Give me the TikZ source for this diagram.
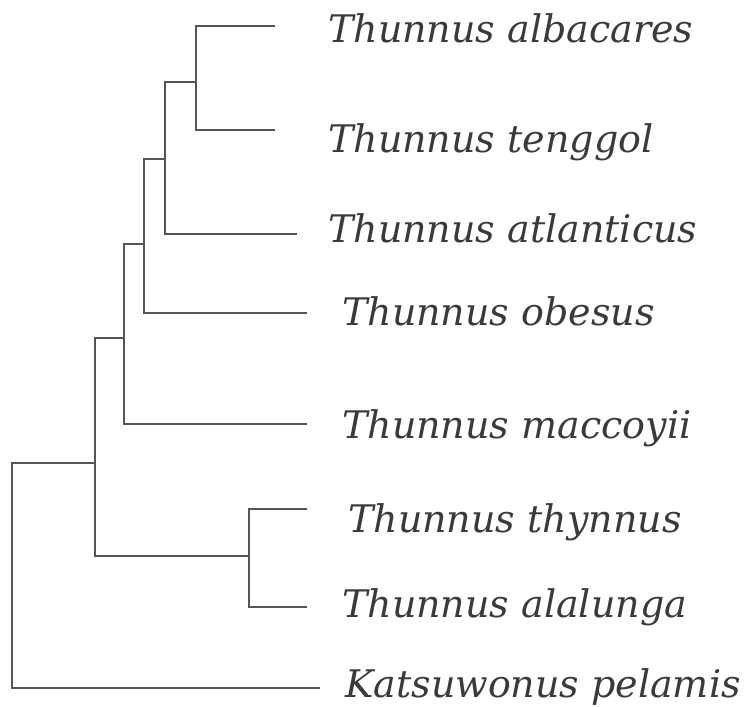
\documentclass[tikz,border=0pt]{standalone}
\usepackage{fontspec}
\newfontfamily\taxfont{DejaVu Serif}
\definecolor{branch}{HTML}{555555}
\definecolor{label}{HTML}{3A3A3A}
\begin{document}
\begin{tikzpicture}[x=1pt,y=-1pt,
  edge/.style={draw=branch,line width=1.3pt},
  taxon/.style={anchor=base west,inner sep=0pt,text=label,font=\taxfont\itshape\fontsize{38}{40}\selectfont}]
\useasboundingbox (0,0) rectangle (750,707);
% internal nodes
\coordinate (n1) at (196,82);
\coordinate (n2) at (165,159);
\coordinate (n3) at (144,244);
\coordinate (n4) at (124,338);
\coordinate (n5) at (95,463);
\coordinate (n6) at (249,556);
\coordinate (root) at (12,575);
% leaf ends
\coordinate (ea) at (275,26);
\coordinate (eb) at (275,130);
\coordinate (ec) at (297,234);
\coordinate (ed) at (307,313);
\coordinate (ee) at (307,424);
\coordinate (ef) at (307,509);
\coordinate (eg) at (307,607);
\coordinate (eh) at (320,688);
% labels
\node[taxon] (ta) at (328,42) {Thunnus albacares};
\node[taxon] (tb) at (328,152) {Thunnus tenggol};
\node[taxon] (tc) at (328,242) {Thunnus atlanticus};
\node[taxon] (td) at (342,325) {Thunnus obesus};
\node[taxon] (te) at (342,438) {Thunnus maccoyii};
\node[taxon] (tf) at (348,532) {Thunnus thynnus};
\node[taxon] (tg) at (342,617) {Thunnus alalunga};
\node[taxon] (th) at (345,697) {Katsuwonus pelamis};
% branches
\path[edge] (ea) -| (n1);
\path[edge] (eb) -| (n1);
\path[edge] (n1) -| (n2);
\path[edge] (ec) -| (n2);
\path[edge] (n2) -| (n3);
\path[edge] (ed) -| (n3);
\path[edge] (n3) -| (n4);
\path[edge] (ee) -| (n4);
\path[edge] (n4) -| (n5);
\path[edge] (n6) -| (n5);
\path[edge] (ef) -| (n6);
\path[edge] (eg) -| (n6);
\path[edge] (n5) -| (root);
\path[edge] (eh) -| (root);
\end{tikzpicture}
\end{document}
